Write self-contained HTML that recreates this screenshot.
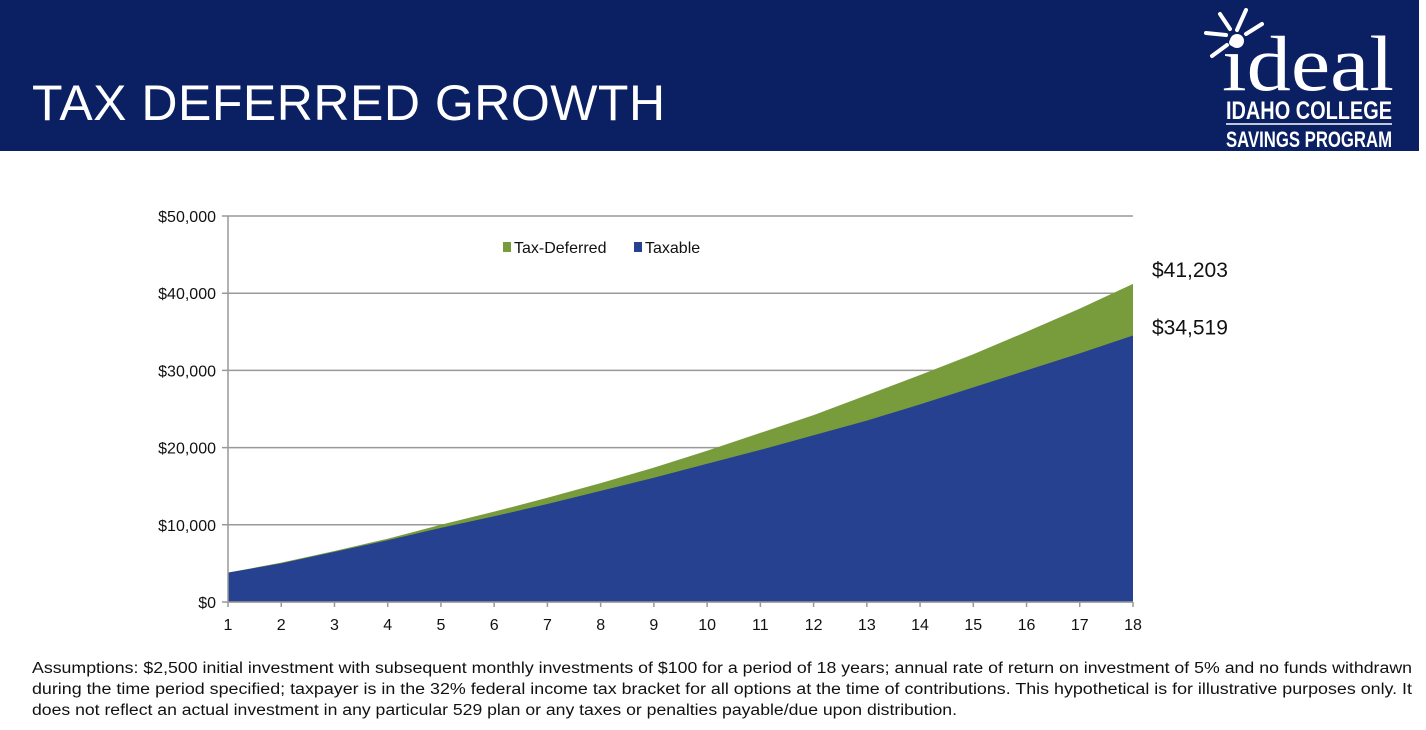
<!DOCTYPE html>
<html><head><meta charset="utf-8"><style>
body{margin:0;width:1426px;height:730px;background:#fff;font-family:"Liberation Sans",sans-serif;position:relative;overflow:hidden}
#hdr{position:absolute;left:0;top:0;width:1419px;height:151px;background:#0b1f63}
#title{position:absolute;left:32px;top:74px;font-size:50px;color:#fff;letter-spacing:0.5px}
#logo{position:absolute;left:1200px;top:4px;width:200px;height:146px;color:#fff}
#note{position:absolute;left:0;top:650px}
</style></head><body>
<div id="hdr">
<div id="title">TAX DEFERRED GROWTH</div>
<svg id="logo" viewBox="0 0 200 146">
<g stroke="#fff" stroke-width="4" stroke-linecap="round">
<line x1="37" y1="26" x2="46" y2="6"/><line x1="30" y1="25" x2="20" y2="10"/><line x1="26" y1="31" x2="6" y2="29"/><line x1="27" y1="41" x2="12" y2="52"/><line x1="46" y1="30" x2="62" y2="20"/>
</g>
<circle cx="37" cy="37" r="7" fill="#fff"/>
<text x="22" y="86" font-family="Liberation Serif,serif" font-size="78" fill="#fff" textLength="172" lengthAdjust="spacingAndGlyphs">ideal</text>
<text x="26" y="115" font-family="Liberation Sans,sans-serif" font-weight="bold" font-size="25" fill="#fff" textLength="166" lengthAdjust="spacingAndGlyphs">IDAHO COLLEGE</text>
<line x1="26" y1="120" x2="192" y2="120" stroke="#fff" stroke-width="1.5"/>
<text x="26" y="143" font-family="Liberation Sans,sans-serif" font-weight="bold" font-size="22" fill="#fff" textLength="166" lengthAdjust="spacingAndGlyphs">SAVINGS PROGRAM</text>
</svg>
</div>
<svg id="chart" width="1426" height="650" style="position:absolute;left:0;top:0"></svg>
<svg id="note" width="1426" height="80" font-family="Liberation Sans,sans-serif" font-size="15.5" fill="#111">
<text x="32" y="23" textLength="1380" lengthAdjust="spacingAndGlyphs">Assumptions: $2,500 initial investment with subsequent monthly investments of $100 for a period of 18 years; annual rate of return on investment of 5% and no funds withdrawn</text>
<text x="32" y="44" textLength="1380" lengthAdjust="spacingAndGlyphs">during the time period specified; taxpayer is in the 32% federal income tax bracket for all options at the time of contributions. This hypothetical is for illustrative purposes only. It</text>
<text x="32" y="65" textLength="925" lengthAdjust="spacingAndGlyphs">does not reflect an actual investment in any particular 529 plan or any taxes or penalties payable/due upon distribution.</text>
</svg>
<script>
const years=[1,2,3,4,5,6,7,8,9,10,11,12,13,14,15,16,17,18];
const taxable=[3800,5000,6500,8000,9600,11100,12700,14400,16100,17900,19700,21600,23500,25600,27800,30000,32200,34519];
const taxDeferred=[3800,5100,6600,8200,10000,11700,13500,15400,17400,19600,21900,24200,26800,29400,32100,35000,38000,41203];
const yTicks=[0,10000,20000,30000,40000,50000];
const tickLabels=["$0","$10,000","$20,000","$30,000","$40,000","$50,000"];
const endLabels=["$41,203","$34,519"];
const NS="http://www.w3.org/2000/svg";
const svg=document.getElementById('chart');
const X0=228,X1=1133,Y0=602,Y1=216;
const xs=v=>X0+(v-years[0])/(years[years.length-1]-years[0])*(X1-X0);
const ys=v=>Y0-v/50000*(Y0-Y1);
function mk(t,a){const e=document.createElementNS(NS,t);for(const k in a)e.setAttribute(k,a[k]);svg.appendChild(e);return e;}
yTicks.forEach((t,i)=>{
 const g=mk('line',{x1:X0-6,x2:X1,y1:ys(t),y2:ys(t),stroke:'#999','stroke-width':1.5});
 
 
 const l=mk('text',{x:X0-12,y:ys(t)+6,'text-anchor':'end','font-size':16,fill:'#111'});
 l.textContent=tickLabels[i];
 
 
});
function area(arr,fill,name){
 let d='M'+xs(years[0])+','+ys(0);
 arr.forEach((v,i)=>d+=' L'+xs(years[i])+','+ys(v));
 d+=' L'+xs(years[years.length-1])+','+ys(0)+'Z';
 const p=mk('path',{d:d,fill:fill});
 
 
}
area(taxDeferred,'#789c3c','tax-deferred-area');
area(taxable,'#26418f','taxable-area');
mk('line',{x1:X0,x2:X0,y1:Y1,y2:Y0,stroke:'#999','stroke-width':1.5});
mk('line',{x1:X0,x2:X1,y1:Y0,y2:Y0,stroke:'#999','stroke-width':1.5});
years.forEach(y=>{
 mk('line',{x1:xs(y),x2:xs(y),y1:Y0,y2:Y0+5,stroke:'#999','stroke-width':1.5});
 const t=mk('text',{x:xs(y),y:Y0+28,'text-anchor':'middle','font-size':16,fill:'#111'});
 t.textContent=y;
 
 
});
const e1=mk('text',{x:1152,y:ys(taxDeferred[17])-7,'font-size':21,fill:'#111'});
e1.textContent=endLabels[0];


const e2=mk('text',{x:1152,y:ys(taxable[17])-1,'font-size':21,fill:'#111'});
e2.textContent=endLabels[1];


const lg1=mk('rect',{x:503,y:242,width:8,height:10,fill:'#789c3c'});


const lt1=mk('text',{x:514,y:253,'font-size':16,fill:'#111'});lt1.textContent='Tax-Deferred';


const lg2=mk('rect',{x:634,y:242,width:8,height:10,fill:'#26418f'});


const lt2=mk('text',{x:645,y:253,'font-size':16,fill:'#111'});lt2.textContent='Taxable';


</script>
</body></html>
